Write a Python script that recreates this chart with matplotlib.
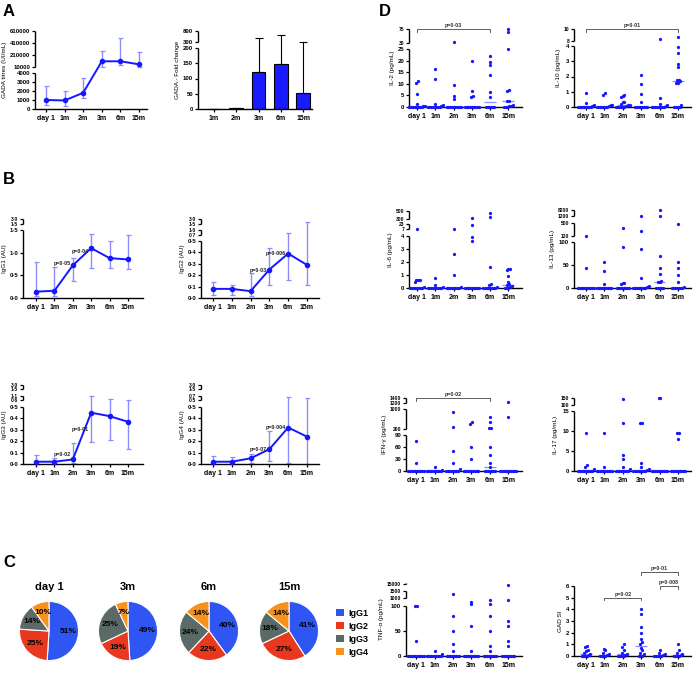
import numpy as np
import matplotlib
matplotlib.use('Agg')
import matplotlib.pyplot as plt
from matplotlib.patches import Patch

plt.rcParams['font.family'] = ['Liberation Sans', 'DejaVu Sans']
plt.rcParams['font.weight'] = 'bold'
plt.rcParams['axes.linewidth'] = 1.0

W, H = 699, 674
BLUE = '#1717ff'
LIGHT = '#8c8cff'

months = ['day 1', '1m', '2m', '3m', '6m', '15m']

# ---------------- Panel A data ----------------
gada_mean = [1000, 950, 1800, 104000, 106000, 54000]
gada_lo = [400, 350, 1200, 15000, 38000, 15000]
gada_hi = [2600, 2000, 3500, 282000, 500000, 260000]

fold_labels = ['1m', '2m', '3m', '6m', '15m']
fold_mean = [0.5, 2, 122, 148, 52]
fold_hi = [1, 4, 497, 633, 300]

# ---------------- Panel B data ----------------
igg1_mean = [0.14, 0.16, 0.72, 1.10, 0.88, 0.85]
igg1_lo = [0.04, 0.05, 0.37, 0.67, 0.67, 0.65]
igg1_hi = [0.80, 0.68, 0.88, 1.42, 1.25, 1.40]

igg2_mean = [0.08, 0.08, 0.06, 0.25, 0.39, 0.29]
igg2_lo = [0.03, 0.03, 0.02, 0.11, 0.16, 0.11]
igg2_hi = [0.14, 0.11, 0.22, 0.44, 0.80, 2.00]

igg3_mean = [0.02, 0.02, 0.04, 0.45, 0.42, 0.37]
igg3_lo = [0.00, 0.00, 0.01, 0.19, 0.21, 0.13]
igg3_hi = [0.08, 0.05, 0.18, 1.10, 0.75, 0.60]

igg4_mean = [0.02, 0.02, 0.05, 0.13, 0.32, 0.24]
igg4_lo = [0.00, 0.00, 0.01, 0.03, 0.01, 0.00]
igg4_hi = [0.07, 0.06, 0.09, 0.29, 0.65, 0.60]

igg1_p = [('p=0·05', 2, 0.76), ('p=0·04', 3, 1.02)]
igg2_p = [('p=0·03', 3, 0.24), ('p=0·006', 4, 0.39)]
igg3_p = [('p=0·02', 2, 0.08), ('p=0·01', 3, 0.30)]
igg4_p = [('p=0·07', 3, 0.13), ('p=0·004', 4, 0.32)]

# ---------------- Panel C data ----------------
pie_titles = ['day 1', '3m', '6m', '15m']
subclasses = ['IgG1', 'IgG2', 'IgG3', 'IgG4']
pie_colors = ['#2f56f2', '#e8391f', '#5b6967', '#f7921e']
pie_day1 = [51, 25, 14, 10]
pie_3m = [49, 19, 25, 7]
pie_6m = [40, 22, 24, 14]
pie_15m = [41, 27, 18, 14]

# ---------------- Panel D data ----------------
il2 = [[0, 0, 0, 0, 0, 0, 0, 0, 0.3, 0.5, 1.5, 5.5, 10.5, 11.2],
       [0, 0, 0, 0, 0, 0, 0, 0, 0.4, 0.8, 1.2, 12, 16.5],
       [0, 0, 0, 0, 0, 0, 0, 0, 0, 3.5, 4.8, 9.5, 33],
       [0, 0, 0, 0, 0, 0, 0, 0, 0, 4.5, 4.6, 6.7, 20],
       [0, 0, 0, 0, 0, 0, 4.5, 6.5, 14, 18, 19.5, 22],
       [0, 0, 0, 0.3, 0.6, 1.0, 2.5, 2.8, 7, 7.5, 25, 65, 75]]
il10 = [[0, 0, 0, 0, 0, 0, 0, 0, 0, 0.05, 0.1, 0.25, 0.95],
        [0, 0, 0, 0, 0, 0, 0, 0, 0.05, 0.1, 0.15, 0.8, 0.9],
        [0, 0, 0, 0, 0, 0, 0.05, 0.1, 0.15, 0.2, 0.3, 0.35, 0.65, 0.7, 0.8],
        [0, 0, 0, 0, 0, 0, 0, 0, 0.3, 0.85, 1.5, 2.1],
        [0, 0, 0, 0, 0, 0, 0, 0, 0.05, 0.1, 0.2, 0.6, 8.3],
        [0, 0, 0, 0, 0.1, 1.55, 1.6, 1.7, 1.75, 1.8, 2.6, 2.85, 3.55, 3.95, 8.6]]
il6 = [[0, 0, 0, 0, 0, 0, 0, 0, 0.1, 0.5, 0.6, 0.6, 0.65, 7],
       [0, 0, 0, 0, 0, 0, 0, 0, 0, 0.1, 0.2, 0.8],
       [0, 0, 0, 0, 0, 0, 0, 0, 0.1, 1.0, 2.6, 7],
       [0, 0, 0, 0, 0, 0, 0, 0, 0, 3.6, 3.9, 20, 330],
       [0, 0, 0, 0, 0, 0, 0, 0, 0.1, 0.2, 0.3, 1.6, 360, 450],
       [0, 0, 0, 0.1, 0.15, 0.2, 0.3, 0.5, 0.95, 1.35, 1.45, 1.5]]
il13 = [[0, 0, 0, 0, 0, 0, 0, 0, 0, 0, 44, 128],
        [0, 0, 0, 0, 0, 0, 0, 0, 0, 8, 38, 56],
        [0, 0, 0, 0, 0, 0, 0, 0, 8, 10, 11, 90, 360],
        [0, 0, 0, 0, 0, 0, 0, 0, 2, 5, 22, 84, 265, 1200],
        [0, 0, 0, 0, 0, 13, 14, 15, 31, 43, 70, 1300, 8200],
        [0, 0, 0, 0, 0, 0, 0, 2, 14, 28, 43, 56, 480]]
ifng = [[0, 0, 0, 0, 0, 0, 0, 0, 0, 0, 20, 75],
        [0, 0, 0, 0, 0, 0, 0, 0, 0, 0, 2, 10],
        [0, 0, 0, 0, 0, 0, 0, 0, 5, 20, 50, 280, 870],
        [0, 0, 0, 0, 0, 0, 0, 0, 0, 30, 60, 420, 470],
        [0, 0, 0, 0, 0, 0, 0, 10, 20, 40, 60, 230, 260, 480, 690],
        [0, 0, 0, 0, 0, 0, 0, 0, 0, 0, 690, 1250]]
il17 = [[0, 0, 0, 0, 0, 0, 0, 0, 0, 0, 0.5, 1.0, 1.5, 9.5],
        [0, 0, 0, 0, 0, 0, 0, 0, 0, 0, 1.0, 9.5],
        [0, 0, 0, 0, 0, 0, 0, 0, 0.5, 1.0, 3.0, 4.0, 12, 140],
        [0, 0, 0, 0, 0, 0, 0, 0, 0.3, 0.5, 1, 2, 12, 12],
        [0, 0, 0, 0, 0, 0, 0, 0, 0, 0, 150, 150],
        [0, 0, 0, 0, 0, 0, 0, 0, 0, 8, 9.5, 9.5]]
tnfa = [[0, 0, 0, 0, 0, 0, 0, 0, 0, 0, 30, 110, 120],
        [0, 0, 0, 0, 0, 0, 0, 0, 0, 0, 5, 10],
        [0, 0, 0, 0, 0, 0, 0, 0, 10, 25, 50, 80, 1300],
        [0, 0, 0, 0, 0, 0, 0, 0, 0, 10, 60, 300, 600],
        [0, 0, 0, 0, 0, 0, 0, 0, 10, 20, 50, 80, 300, 800],
        [0, 0, 0, 0, 0, 0, 0, 0, 20, 30, 60, 70, 800, 14000]]
gad_si = [[0, 0, 0, 0, 0.1, 0.2, 0.3, 0.4, 0.5, 0.8, 0.9],
          [0, 0, 0, 0, 0.1, 0.2, 0.3, 0.5, 0.6],
          [0, 0, 0, 0, 0.1, 0.2, 0.3, 0.5, 0.8, 1.0],
          [0, 0, 0, 0.2, 0.3, 0.5, 0.7, 1.0, 1.2, 1.5, 2.0, 2.5, 3.6, 4.0],
          [0, 0, 0, 0, 0, 0.1, 0.2, 0.3, 0.5],
          [0, 0, 0, 0, 0.1, 0.2, 0.3, 0.5, 1.0]]

fig = plt.figure(figsize=(W / 100, H / 100), dpi=100)


def box(x0, x1, ytop, ybot):
    return fig.add_axes([x0 / W, 1 - ybot / H, (x1 - x0) / W, (ybot - ytop) / H])


def broken(x0, x1, ybot, segs, ticks, ylabel, xlim=(-0.65, 5.7), xlabels=months):
    """segs: (data_lo, data_hi, px_lo, px_hi) in figure pixels from the top"""
    ax = box(x0, x1, segs[-1][3], ybot)
    dk, pk, spans = [], [], []
    for d0, d1, p0, p1 in segs:
        if dk and d0 <= dk[-1]:
            d0 = dk[-1] + 1e-6
        dk += [d0, d1]
        pk += [ybot - p0, ybot - p1]
        spans.append((d0, d1))
    dk = [dk[0] - (dk[1] - dk[0])] + dk + [dk[-1] + (dk[-1] - dk[-2])]
    pk = [pk[0] - (pk[1] - pk[0])] + pk + [pk[-1] + (pk[-1] - pk[-2])]
    fwd = lambda v: np.interp(v, dk, pk)
    inv = lambda v: np.interp(v, pk, dk)
    ax.set_yscale('function', functions=(fwd, inv))
    tv, tl, small = [], [], []
    for n, ((d0, d1), seg_ticks) in enumerate(zip(spans, ticks)):
        for t, lab in seg_ticks:
            tv.append(min(max(t, d0), d1))
            tl.append(lab)
            small.append(n > 0)
    ax.set_yticks(tv)
    ax.set_yticklabels(tl)
    ax.yaxis.set_minor_locator(matplotlib.ticker.NullLocator())
    ax.set_ylim(spans[0][0], spans[-1][1])
    ax.spines['left'].set_visible(False)
    ax.spines['top'].set_visible(False)
    ax.spines['right'].set_visible(False)
    for d0, d1 in spans:
        ax.plot([0, 0], [d0, d1], transform=ax.get_yaxis_transform(), color='k',
                lw=1.0, clip_on=False, solid_capstyle='butt')
    ax.set_xticks(range(len(xlabels)))
    ax.set_xticklabels(xlabels)
    ax.set_xlim(*xlim)
    ax.tick_params(axis='y', length=2.5, width=0.9, labelsize=4.3, pad=1)
    ax.tick_params(axis='x', length=2.5, width=0.9, labelsize=5, pad=2)
    for t, s in zip(ax.get_yticklabels(), small):
        if s:
            t.set_fontsize(3.6)
    ax.set_ylabel(ylabel, fontsize=4.6, labelpad=2)
    ax.fwd, ax.inv = fwd, inv
    return ax


def lbl(vals, fmt):
    return [(v, fmt(v)) for v in vals]


def dot(v):
    return f'{v:.1f}'.replace('.', '·')


def line_panel(ax, mean, lo, hi, pvals):
    x = np.arange(len(mean))
    mean, lo, hi = map(np.asarray, (mean, lo, hi))
    ax.errorbar(x, mean, yerr=[mean - lo, hi - mean], fmt='none', ecolor=LIGHT,
                elinewidth=1.0, capsize=1.8, capthick=0.9, clip_on=False, zorder=2)
    ax.plot(x, mean, '-o', color=BLUE, lw=1.4, ms=3, clip_on=False, zorder=3)
    for txt, i, y in pvals:
        ax.text(i - 0.12, y, txt, fontsize=3.9, ha='right', va='center', color='#222')


def swarm(ax, groups, step=0.095):
    for i, vals in enumerate(groups):
        vals = np.sort(np.asarray(vals, float))
        p = ax.fwd(vals)
        xs = np.full(len(vals), float(i))
        start = 0
        for k in range(1, len(vals) + 1):
            if k == len(vals) or p[k] - p[start] > 2.5:
                m = k - start
                wdt = min((m - 1) * step, 0.85)
                xs[start:k] = i + np.linspace(-wdt / 2, wdt / 2, m)
                start = k
        ax.scatter(xs, vals, s=5.5, color=BLUE, lw=0, clip_on=False, zorder=3)
        med = np.median(vals)
        if med > 0:
            ax.hlines(med, i - 0.32, i + 0.32, color=LIGHT, lw=0.9, zorder=2)


def bracket(ax, i, j, h, txt):
    ph = ax.fwd(h)
    lo = ax.inv(ph - 2.5)
    ax.plot([i, i, j, j], [lo, h, h, lo], color='#444', lw=0.6, clip_on=False)
    ax.text((i + j) / 2, ax.inv(ph + 1), txt, fontsize=3.9, ha='center', va='bottom',
            color='#333')


# ================= Panel A =================
ax = broken(35, 147, 109,
            [(0, 4000, 109, 73), (10000, 610000, 67, 31)],
            [lbl([0, 1000, 2000, 3000, 4000], lambda v: f'{v:.0f}'),
             lbl([10000, 210000, 410000, 610000], lambda v: f'{v:.0f}')],
            'GADA titres (UI/mL)', xlim=(-0.59, 5.43))
for t in ax.get_yticklabels():
    t.set_fontsize(4.3)
x = np.arange(6)
gm, gl, gh = map(np.asarray, (gada_mean, gada_lo, gada_hi))
ax.errorbar(x, gm, yerr=[gm - gl, gh - gm], fmt='none', ecolor=LIGHT, elinewidth=1.0,
            capsize=1.8, capthick=0.9, clip_on=False)
ax.plot(x, gm, '-o', color=BLUE, lw=1.4, ms=3, clip_on=False)

ax = broken(198, 312, 109,
            [(0, 200, 109, 48), (300, 800, 42, 31)],
            [lbl([0, 50, 100, 150, 200], lambda v: f'{v:.0f}'),
             lbl([300, 800], lambda v: f'{v:.0f}')],
            'GADA - Fold change', xlim=(-0.72, 4.4), xlabels=fold_labels)
for t in ax.get_yticklabels():
    t.set_fontsize(4.3)
xb = np.arange(len(fold_mean))
fm = np.asarray(fold_mean)
ax.bar(xb, fm, width=0.62, color='#1a1aff', edgecolor='k', lw=0.8, zorder=2)
ax.errorbar(xb, fm, yerr=[np.zeros_like(fm), np.asarray(fold_hi) - fm], fmt='none',
            ecolor='k', elinewidth=0.8, capsize=3, capthick=0.8, clip_on=False)

# ================= Panel B =================
ax = broken(23, 143, 298, [(0, 1.5, 298, 230), (1.5, 3.0, 224, 219)],
            [lbl([0, 0.5, 1.0, 1.5], dot), lbl([1.5, 3.0], dot)],
            'IgG1 (AU)', xlim=(-0.71, 5.82))
line_panel(ax, igg1_mean, igg1_lo, igg1_hi, igg1_p)

ax = broken(201, 319, 298,
            [(0, 0.5, 298, 241), (0.7, 1.0, 235, 230), (1.5, 3.0, 224, 219)],
            [lbl([0, 0.1, 0.2, 0.3, 0.4, 0.5], dot), lbl([0.7, 1.0], dot),
             lbl([1.5, 3.0], dot)],
            'IgG2 (AU)', xlim=(-0.64, 5.64))
line_panel(ax, igg2_mean, igg2_lo, igg2_hi, igg2_p)

ax = broken(23, 143, 464,
            [(0, 0.5, 464, 407), (0.6, 1.1, 400, 396), (1.5, 3.0, 389, 385)],
            [lbl([0, 0.1, 0.2, 0.3, 0.4, 0.5], dot), lbl([0.6, 1.1], dot),
             lbl([1.5, 3.0], dot)],
            'IgG3 (AU)', xlim=(-0.71, 5.82))
line_panel(ax, igg3_mean, igg3_lo, igg3_hi, igg3_p)

ax = broken(201, 319, 464,
            [(0, 0.5, 464, 407), (0.5, 0.7, 400, 396), (1.5, 3.0, 389, 385)],
            [lbl([0, 0.1, 0.2, 0.3, 0.4, 0.5], dot), lbl([0.5, 0.7], dot),
             lbl([1.5, 3.0], dot)],
            'IgG4 (AU)', xlim=(-0.64, 5.64))
line_panel(ax, igg4_mean, igg4_lo, igg4_hi, igg4_p)

# ================= Panel C =================
pies = [pie_day1, pie_3m, pie_6m, pie_15m]
for cx, title, vals in zip([49, 128, 209, 289], pie_titles, pies):
    pax = box(cx - 37, cx + 37, 631 - 37, 631 + 37)
    pax.pie(vals, colors=pie_colors, startangle=90, counterclock=False,
            wedgeprops=dict(edgecolor='white', linewidth=0.8),
            autopct=lambda p: f'{p:.0f}%', pctdistance=0.64,
            textprops=dict(fontsize=6, fontweight='bold', color='k'))
    pax.set_title(title, fontsize=8, fontweight='bold', pad=3)

fig.legend(handles=[Patch(facecolor=c, label=s) for c, s in zip(pie_colors, subclasses)],
           loc='upper left', bbox_to_anchor=(332 / W, 1 - 605 / H), frameon=False,
           fontsize=6.5, handlelength=0.9, handleheight=0.9, handletextpad=0.5,
           labelspacing=0.45, borderaxespad=0)

# ================= Panel D =================
xl_left = (-0.45, 5.75)
xl_right = (-0.65, 5.71)

ax = broken(409, 522, 107, [(0, 25, 107, 49), (30, 75, 43, 29)],
            [lbl([0, 5, 10, 15, 20, 25], lambda v: f'{v:.0f}'),
             lbl([30, 75], lambda v: f'{v:.0f}')],
            'IL-2 (pg/mL)', xlim=xl_left)
swarm(ax, il2)
bracket(ax, 0, 4, 75, 'p=0·03')

ax = broken(574, 691, 107, [(0, 4, 107, 46), (8, 10, 41, 29)],
            [lbl([0, 1, 2, 3, 4], lambda v: f'{v:.0f}'),
             lbl([8, 10], lambda v: f'{v:.0f}')],
            'IL-10 (pg/mL)', xlim=xl_right)
swarm(ax, il10)
bracket(ax, 0, 5, 10, 'p=0·01')

ax = broken(409, 522, 288, [(0, 4, 288, 236), (7, 23, 229, 224), (300, 500, 219, 211)],
            [lbl([0, 1, 2, 3, 4], lambda v: f'{v:.0f}'),
             lbl([7, 23], lambda v: f'{v:.0f}'),
             lbl([300, 500], lambda v: f'{v:.0f}')],
            'IL-6 (pg/mL)', xlim=xl_left)
swarm(ax, il6)

ax = broken(574, 691, 288,
            [(0, 100, 288, 242), (120, 500, 236, 223), (1200, 8200, 216, 210)],
            [lbl([0, 50, 100], lambda v: f'{v:.0f}'),
             lbl([120, 500], lambda v: f'{v:.0f}'),
             lbl([1200, 8200], lambda v: f'{v:.0f}')],
            'IL-13 (pg/mL)', xlim=xl_right)
swarm(ax, il13)

ax = broken(406, 522, 471,
            [(0, 90, 471, 435), (200, 1000, 429, 409), (1200, 1400, 403, 398)],
            [lbl([0, 30, 60, 90], lambda v: f'{v:.0f}'),
             lbl([200, 1000], lambda v: f'{v:.0f}'),
             lbl([1200, 1400], lambda v: f'{v:.0f}')],
            'IFN-γ (pg/mL)', xlim=(-0.55, 5.75))
swarm(ax, ifng)
bracket(ax, 0, 4, 1400, 'p=0·02')

ax = broken(574, 691, 471,
            [(0, 15, 471, 411), (100, 150, 405, 398)],
            [lbl([0, 5, 10, 15], lambda v: f'{v:.0f}'),
             lbl([100, 150], lambda v: f'{v:.0f}')],
            'IL-17 (pg/mL)', xlim=xl_right)
swarm(ax, il17)

ax = broken(406, 522, 656,
            [(0, 100, 656, 606), (1000, 1500, 598, 591), (15000, 15000.1, 584, 583)],
            [lbl([0, 50, 100], lambda v: f'{v:.0f}'),
             lbl([1000, 1500], lambda v: f'{v:.0f}'),
             lbl([15000], lambda v: f'{v:.0f}')],
            'TNF-α (pg/mL)', xlim=(-0.55, 5.75))
swarm(ax, tnfa)

ax = broken(574, 691, 656, [(0, 6, 656, 586)],
            [lbl([0, 1, 2, 3, 4, 5, 6], lambda v: f'{v:.0f}')],
            'GAD SI', xlim=xl_right)
swarm(ax, gad_si)
bracket(ax, 1, 3, 5.0, 'p=0·02')
bracket(ax, 4, 5, 6.0, 'p=0·008')
bracket(ax, 3, 5, 7.2, 'p=0·01')

# panel letters
for letter, (px, py) in zip('ABCD', [(3, 4), (3, 172), (3, 555), (379, 4)]):
    fig.text(px / W, 1 - py / H, letter, fontsize=12, fontweight='bold', va='top')

fig.savefig('out.png', dpi=100)
